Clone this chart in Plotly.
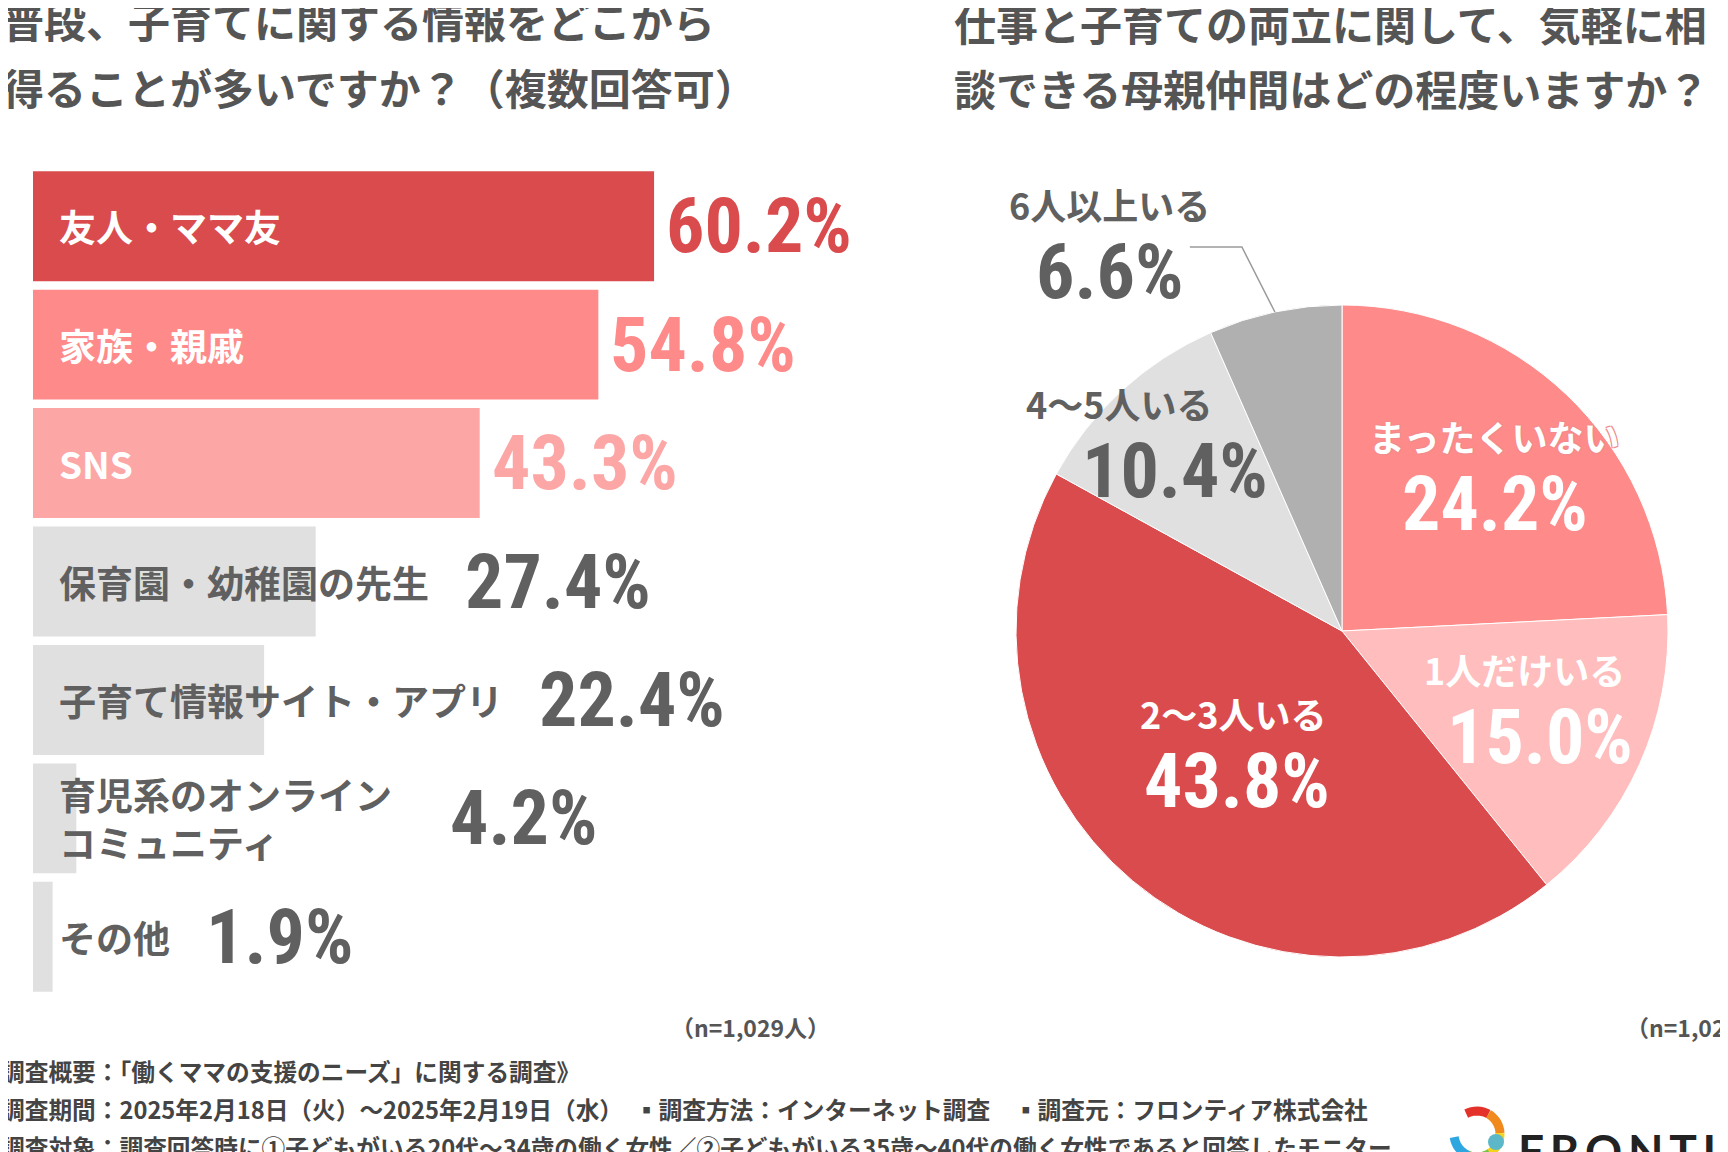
import math

import plotly.graph_objects as go

W, H = 1728, 1152
PAGE_OFFSET = 8  # default body margin of the html page

# left chart: information sources (multiple answers)
bar_labels = [
    "友人・ママ友",
    "家族・親戚",
    "SNS",
    "保育園・幼稚園の先生",
    "子育て情報サイト・アプリ",
    "育児系のオンライン<br>コミュニティ",
    "その他",
]
bar_values = [60.2, 54.8, 43.3, 27.4, 22.4, 4.2, 1.9]

# right chart: number of mom friends to talk with
pie_labels = ["まったくいない", "1人だけいる", "2～3人いる", "4～5人いる", "6人以上いる"]
pie_values = [24.2, 15.0, 43.8, 10.4, 6.6]

n_text = "（n=1,029人）"
title_left = ["普段、子育てに関する情報をどこから", "得ることが多いですか？（複数回答可）"]
title_right = ["仕事と子育ての両立に関して、気軽に相", "談できる母親仲間はどの程度いますか？"]
footer = [
    "調査概要：「働くママの支援のニーズ」に関する調査》",
    "調査期間：2025年2月18日（火）～2025年2月19日（水）　▪調査方法：インターネット調査　▪調査元：フロンティア株式会社",
    "調査対象：調査回答時に①子どもがいる20代～34歳の働く女性／②子どもがいる35歳～40代の働く女性であると回答したモニター",
]

# styles
RED = "#da4b4d"
PINK = "#ff8a8a"
LIGHT = "#fca6a6"
PALE = "#ffbdbd"
GREY = "#e0e0e0"
MID = "#b0b0b0"
TXT = "#555555"
DARK = "#606060"
JP = "Noto Sans CJK JP"
NUM = "Liberation Sans Narrow, Roboto Condensed, DejaVu Sans Condensed, sans-serif"

bar_colors = [RED, PINK, LIGHT, GREY, GREY, GREY, GREY]
bar_text_colors = ["white", "white", "white", DARK, DARK, DARK, DARK]
pct_colors = [RED, PINK, LIGHT, DARK, DARK, DARK, DARK]
pie_colors = [PINK, PALE, RED, GREY, MID]
pie_text_colors = ["white", "white", "white", DARK, DARK]
outline = ", ".join("%dpx %dpx 0 #f28b8b" % (dx, dy) for dx in (-1, 1) for dy in (-1, 1))


def px(x):
    return (x - PAGE_OFFSET) / W


def py(y):
    return 1 - (y - PAGE_OFFSET) / H


fig = go.Figure()

fig.add_trace(go.Bar(
    x=bar_values,
    y=bar_labels,
    orientation="h",
    marker=dict(color=bar_colors, line=dict(width=0)),
    hoverinfo="skip",
    xaxis="x",
    yaxis="y",
))

fig.add_trace(go.Pie(
    labels=pie_labels,
    values=pie_values,
    sort=False,
    direction="clockwise",
    rotation=0,
    marker=dict(colors=pie_colors, line=dict(color="white", width=1)),
    textinfo="none",
    hoverinfo="skip",
    domain=dict(x=[px(1016), px(1668)], y=[py(957), py(305)]),
))

ann = []

# titles
for i, line in enumerate(title_left):
    ann.append(dict(x=px(0), y=py(20 + 66 * i), text="<b>%s</b>" % line, xanchor="left",
                    font=dict(family=JP, size=42, color=TXT)))
for i, line in enumerate(title_right):
    ann.append(dict(x=px(952), y=py(22 + 66 * i), text="<b>%s</b>" % line, xanchor="left",
                    font=dict(family=JP, size=42, color=TXT)))

# bar labels and percents
LABEL_PAD = 24
LABEL_SIZE = 37
for i, (lab, v) in enumerate(zip(bar_labels, bar_values)):
    ann.append(dict(x=0, y=lab, xref="x", yref="y", text="<b>%s</b>" % lab, xanchor="left",
                    xshift=LABEL_PAD, align="left",
                    font=dict(family=JP, size=LABEL_SIZE, color=bar_text_colors[i])))
    pct = "<b>%.1f%%</b>" % v
    if i < 3:
        ann.append(dict(x=v, y=lab, xref="x", yref="y", text=pct, xanchor="left", xshift=10,
                        font=dict(family=NUM, size=76, color=pct_colors[i])))
    else:
        lines = lab.split("<br>")
        longest = max(len(s) for s in lines)
        shift = LABEL_PAD + longest * LABEL_SIZE + 36 + 22 * (len(lines) - 1)
        ann.append(dict(x=0, y=lab, xref="x", yref="y", text=pct, xanchor="left", xshift=shift,
                        font=dict(family=NUM, size=76, color=pct_colors[i])))

# pie labels
CX, CY, R = 1342, 631, 326
label_frac = [0.68, 0.64, 0.50, 0.84]
label_off = [(0, 0, 0), (-8, 8, -13), (-4, 0, -9), (-38, 18, 8)]  # label dx, pct dx, dy
total = sum(pie_values)
cum = 0
shapes = []
for i, (lab, v) in enumerate(zip(pie_labels, pie_values)):
    a = math.radians((cum + v / 2) / total * 360)
    cum += v
    pct = "<b>%.1f%%</b>" % v
    if i < len(label_frac):
        dxl, dxp, dy = label_off[i]
        x = CX + R * label_frac[i] * math.sin(a)
        y = CY - R * label_frac[i] * math.cos(a) + dy
        lab_font = dict(family=JP, size=36, color=pie_text_colors[i])
        if i == 0:
            lab_font["shadow"] = outline
        ann.append(dict(x=px(x + dxl), y=py(y - 34), text="<b>%s</b>" % lab, font=lab_font))
        ann.append(dict(x=px(x + dxp), y=py(y + 34), text=pct,
                        font=dict(family=NUM, size=76, color=pie_text_colors[i])))
    else:
        ex = CX + R * math.sin(a)
        ey = CY - R * math.cos(a)
        bx, by = ex - 33, ey - 65
        lx = bx - 52
        shapes.append(dict(type="path", xref="paper", yref="paper",
                           path="M %f %f L %f %f L %f %f" % (px(ex), py(ey), px(bx), py(by), px(lx), py(by)),
                           line=dict(color="#9a9a9a", width=1.5)))
        ann.append(dict(x=px(lx - 80), y=py(by - 43), text="<b>%s</b>" % lab,
                        font=dict(family=JP, size=36, color=pie_text_colors[i])))
        ann.append(dict(x=px(lx - 80), y=py(by + 25), text=pct,
                        font=dict(family=NUM, size=76, color=pie_text_colors[i])))

# sample sizes
ann.append(dict(x=px(832), y=py(1027), text="<b>%s</b>" % n_text, xanchor="right",
                font=dict(family=JP, size=23, color=TXT)))
ann.append(dict(x=px(1624), y=py(1027), text="<b>%s</b>" % n_text, xanchor="left",
                font=dict(family=JP, size=23, color=TXT)))

# footer
for i, line in enumerate(footer):
    ann.append(dict(x=px(-1), y=py(1071 + 38 * i), text="<b>%s</b>" % line, xanchor="left",
                    font=dict(family=JP, size=23.7, color="#444444")))

# logo
ann.append(dict(x=px(1516), y=py(1150), text="<b>%s</b>" % "\u2009".join("FRONTIER"), xanchor="left",
                font=dict(family="Lato, Open Sans, sans-serif", size=46, color="#222222")))
logo_cols = ["#e4322b", "#f08a1c", "#f5d31a", "#7cc242", "#2ea7e0"]
lcx, lcy, lr = 1477, 1134, 23
for k, col in enumerate(logo_cols):
    a0 = 30 + k * 58
    pts = []
    for s in range(9):
        t = math.radians(a0 - s * 58 / 8)
        pts.append((px(lcx + lr * math.sin(t)), py(lcy - lr * math.cos(t))))
    path = "M " + " L ".join("%f %f" % p for p in pts)
    shapes.append(dict(type="path", xref="paper", yref="paper", path=path,
                       line=dict(color=col, width=9)))
shapes.append(dict(type="circle", xref="paper", yref="paper",
                   x0=px(1488), x1=px(1504), y0=py(1150), y1=py(1134),
                   fillcolor="#5cb8c8", line=dict(width=0)))

for a in ann:
    a.setdefault("xref", "paper")
    a.setdefault("yref", "paper")
    a.setdefault("xanchor", "center")
    a["yanchor"] = "middle"
    a["showarrow"] = False

fig.update_layout(
    width=W,
    height=H,
    margin=dict(l=0, r=0, t=0, b=0),
    paper_bgcolor="white",
    plot_bgcolor="white",
    showlegend=False,
    bargap=0.072,
    xaxis=dict(domain=[px(33), 1], range=[0, (W - PAGE_OFFSET - 33) / 10.22], visible=False, fixedrange=True),
    yaxis=dict(domain=[py(996), py(167)], autorange="reversed", visible=False, fixedrange=True),
    annotations=ann,
    shapes=shapes,
)

fig.write_html("out.html")
